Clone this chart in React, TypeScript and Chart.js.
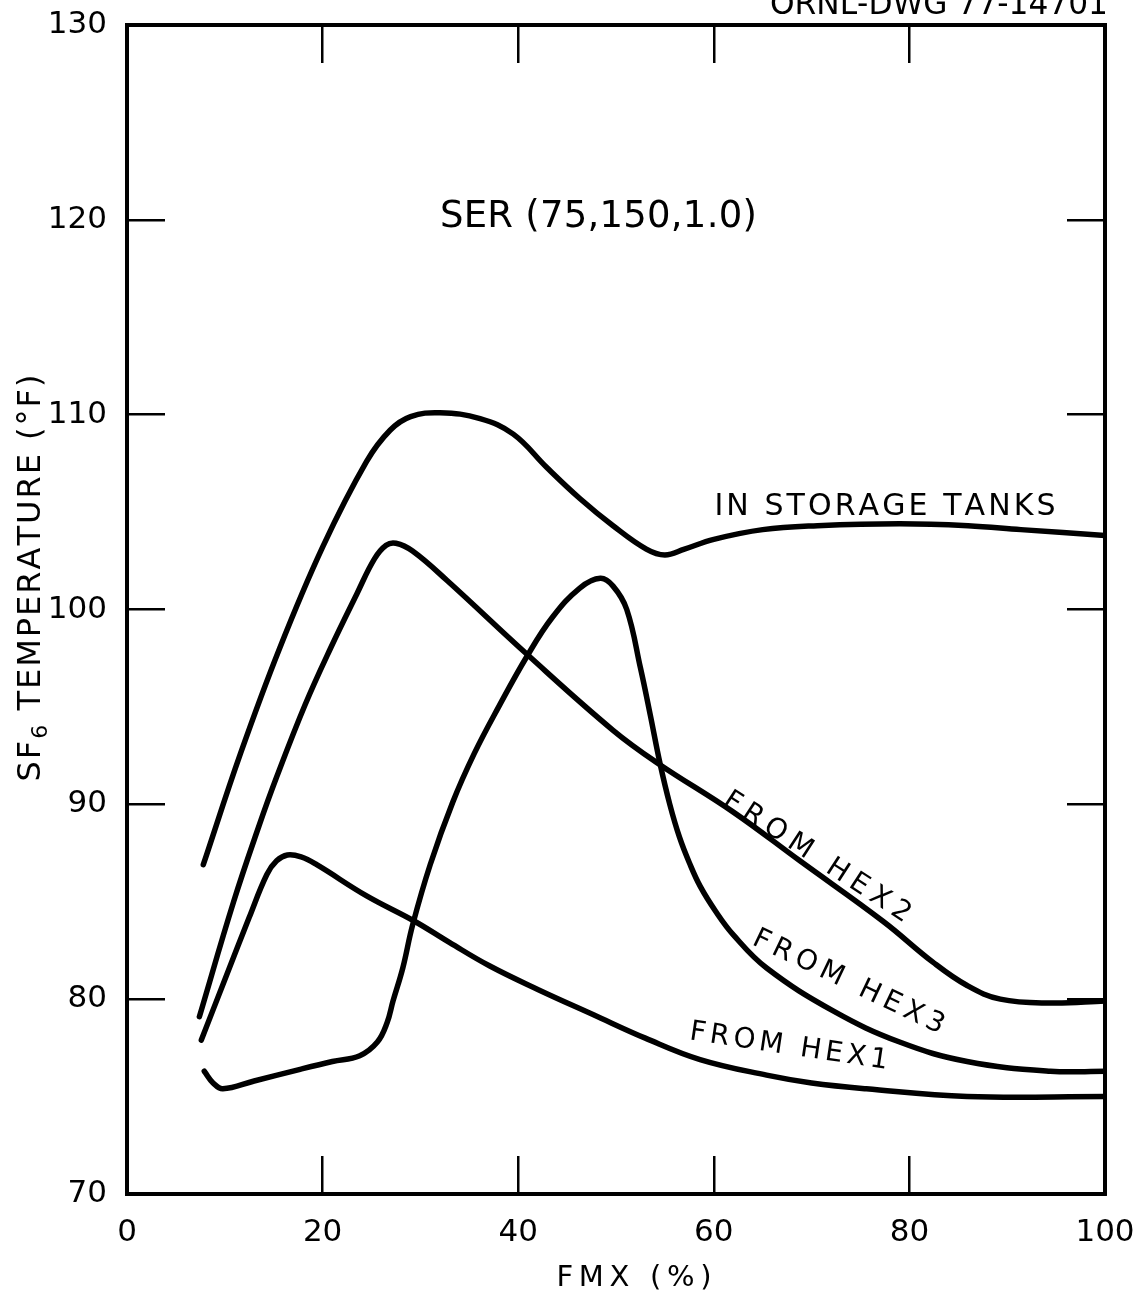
import React, { useEffect, useRef } from "react";
import { Chart, registerables } from "chart.js";

Chart.register(...registerables);

const FONT = "'DejaVu Sans', 'Liberation Sans', sans-serif";

// ---- data (FMX %, SF6 temperature °F) ----
const storageX = [7.8, 11.6, 15.6, 20.0, 24.5, 26.9, 29.0, 32.0, 36.1, 39.5, 42.9, 46.3, 49.7, 53.1, 55.0, 57.0, 60.0, 65.0, 70.6, 79.0, 86.0, 91.4, 100];
const storageY = [86.9, 92.6, 98.0, 103.2, 107.6, 109.2, 109.9, 110.1, 109.8, 109.0, 107.3, 105.7, 104.3, 103.1, 102.8, 103.1, 103.6, 104.1, 104.3, 104.4, 104.3, 104.1, 103.8];

const hex2X = [7.4, 10.9, 13.5, 15.3, 18.2, 20.8, 23.5, 25.3, 26.5, 27.5, 29.2, 32.7, 40.9, 49.7, 54.3, 62.0, 68.8, 77.3, 82.4, 85.9, 89.3, 94.4, 100];
const hex2Y = [79.1, 85.0, 88.9, 91.4, 95.1, 98.0, 100.8, 102.6, 103.3, 103.4, 103.0, 101.5, 97.7, 93.8, 92.1, 89.6, 87.1, 84.0, 81.9, 80.7, 80.0, 79.8, 79.9];

const hex3X = [7.9, 8.8, 9.8, 13.0, 17.7, 21.0, 23.8, 25.6, 26.6, 27.2, 28.2, 29.2, 31.0, 33.3, 35.5, 38.0, 40.9, 43.5, 46.3, 48.4, 49.7, 51.1, 52.5, 53.5, 54.5, 55.5, 56.5, 57.5, 58.6, 60.2, 62.0, 65.4, 72.2, 79.0, 85.9, 94.4, 100];
const hex3Y = [76.3, 75.7, 75.4, 75.8, 76.4, 76.8, 77.1, 77.8, 78.8, 79.9, 81.6, 83.8, 86.9, 90.1, 92.6, 95.0, 97.6, 99.6, 101.1, 101.6, 101.2, 100.0, 97.0, 94.6, 92.1, 90.0, 88.3, 87.0, 85.8, 84.5, 83.3, 81.6, 79.4, 77.8, 76.8, 76.3, 76.3];

const hex1X = [7.6, 10.0, 12.5, 14.3, 15.3, 16.4, 17.8, 19.4, 24.5, 29.4, 33.0, 37.1, 42.0, 47.7, 53.0, 58.6, 65.4, 70.0, 75.6, 85.9, 100];
const hex1Y = [77.9, 81.0, 84.2, 86.4, 87.1, 87.4, 87.3, 86.9, 85.3, 84.0, 82.9, 81.7, 80.5, 79.2, 78.0, 76.9, 76.1, 75.7, 75.4, 75.0, 75.0];

const xTickValues = [0, 20, 40, 60, 80, 100];
const yTickValues = [70, 80, 90, 100, 110, 120, 130];

const caseTitle = "SER (75,150,1.0)";
const curveNames = ["IN STORAGE TANKS", "FROM HEX2", "FROM HEX3", "FROM HEX1"];
const xAxisTitle = "FMX (%)";
const yAxisTitleParts = ["SF", "6", " TEMPERATURE (°F)"];
const drawingNumber = "ORNL-DWG 77-14701";

// ---- text placement (data coordinates for in-plot notes) ----
const NOTES = [
  { text: caseTitle, x: 48.2, y: 120.3, angle: 0, size: 37, width: 317 },
  { text: curveNames[0], x: 77.5, y: 105.4, angle: 0, size: 30, width: 341 },
  { text: curveNames[1], x: 70.7, y: 87.4, angle: 33, size: 28, width: 218 },
  { text: curveNames[2], x: 73.9, y: 81.0, angle: 25.5, size: 28, width: 209 },
  { text: curveNames[3], x: 67.7, y: 77.7, angle: 8.5, size: 28, width: 200 },
];

type Part = { t: string; size: number; dy: number };

function drawParts(ctx: CanvasRenderingContext2D, parts: Part[], width: number, baseline: number) {
  const chars: { c: string; size: number; dy: number; w: number }[] = [];
  for (const p of parts) {
    ctx.font = `${p.size}px ${FONT}`;
    for (const c of Array.from(p.t)) chars.push({ c, size: p.size, dy: p.dy, w: ctx.measureText(c).width });
  }
  const natural = chars.reduce((a, b) => a + b.w, 0);
  let ls = 0;
  let sx = 1;
  if (natural < width) ls = (width - natural) / Math.max(1, chars.length - 1);
  else sx = width / natural;
  ctx.save();
  ctx.scale(sx, 1);
  let x = -(natural + ls * (chars.length - 1)) / 2;
  ctx.textAlign = "left";
  ctx.textBaseline = "alphabetic";
  ctx.fillStyle = "#000";
  for (const ch of chars) {
    ctx.font = `${ch.size}px ${FONT}`;
    ctx.fillText(ch.c, x, baseline + ch.dy);
    x += ch.w + ls;
  }
  ctx.restore();
}

const notesPlugin = {
  id: "notes",
  afterDraw(chart: any) {
    const ctx: CanvasRenderingContext2D = chart.ctx;
    const xs = chart.scales.x;
    const ys = chart.scales.y;
    for (const n of NOTES) {
      ctx.save();
      ctx.translate(xs.getPixelForValue(n.x), ys.getPixelForValue(n.y));
      ctx.rotate((n.angle * Math.PI) / 180);
      drawParts(ctx, [{ t: n.text, size: n.size, dy: 0 }], n.width, 0.365 * n.size);
      ctx.restore();
    }
    // y axis title (rotated, with subscript)
    ctx.save();
    ctx.translate(28.5, 578);
    ctx.rotate(-Math.PI / 2);
    drawParts(
      ctx,
      [
        { t: yAxisTitleParts[0], size: 32, dy: 0 },
        { t: yAxisTitleParts[1], size: 22, dy: 7 },
        { t: yAxisTitleParts[2], size: 32, dy: 0 },
      ],
      407,
      0.365 * 32
    );
    ctx.restore();
    // x axis title
    ctx.save();
    ctx.translate(634, 1275);
    drawParts(ctx, [{ t: xAxisTitle, size: 29, dy: 0 }], 155, 0.365 * 29);
    ctx.restore();
    // drawing number (clipped at top)
    ctx.save();
    ctx.translate(939, 14);
    drawParts(ctx, [{ t: drawingNumber, size: 32, dy: 0 }], 338, 0);
    ctx.restore();
  },
};

const lineStyle = {
  borderColor: "#000",
  borderWidth: 5.5,
  pointRadius: 0,
  fill: false,
  tension: 0.4,
  borderCapStyle: "round" as const,
  borderJoinStyle: "round" as const,
};

const toPoints = (xs: number[], ys: number[]) => xs.map((x, i) => ({ x, y: ys[i] }));

const gridStyle = {
  drawOnChartArea: false,
  drawTicks: true,
  tickLength: -38,
  color: "#000",
  lineWidth: 2.5,
};
const borderStyle = { display: true, color: "#000", width: 4 };

const noPad = (s: any) => {
  s.paddingLeft = 0;
  s.paddingRight = 0;
  s.paddingTop = 0;
  s.paddingBottom = 0;
};

export default function App() {
  const ref = useRef<HTMLCanvasElement>(null);
  useEffect(() => {
    if (!ref.current) return;
    const chart = new Chart(ref.current, {
      type: "line",
      data: {
        datasets: [
          { label: curveNames[0], data: toPoints(storageX, storageY), ...lineStyle },
          { label: curveNames[1], data: toPoints(hex2X, hex2Y), ...lineStyle },
          { label: curveNames[2], data: toPoints(hex3X, hex3Y), ...lineStyle },
          { label: curveNames[3], data: toPoints(hex1X, hex1Y), ...lineStyle },
        ],
      },
      options: {
        responsive: false,
        animation: false,
        layout: { padding: 0 },
        plugins: {
          legend: { display: false },
          tooltip: { enabled: false },
          title: { display: false },
        },
        scales: {
          x: {
            type: "linear",
            position: "bottom",
            min: 0,
            max: 100,
            afterBuildTicks: (s: any) => {
              s.ticks = xTickValues.map((v) => ({ value: v }));
            },
            afterFit: (s: any) => {
              s.height = 98;
              noPad(s);
            },
            grid: gridStyle,
            border: borderStyle,
            ticks: {
              color: "#000",
              font: { family: FONT, size: 31 },
              padding: 58,
              maxRotation: 0,
              autoSkip: false,
            },
          },
          x2: {
            type: "linear",
            position: "top",
            min: 0,
            max: 100,
            afterBuildTicks: (s: any) => {
              s.ticks = xTickValues.map((v) => ({ value: v }));
            },
            afterFit: (s: any) => {
              s.height = 25;
              noPad(s);
            },
            grid: gridStyle,
            border: borderStyle,
            ticks: { display: false },
          },
          y: {
            type: "linear",
            position: "left",
            min: 70,
            max: 130,
            afterBuildTicks: (s: any) => {
              s.ticks = yTickValues.map((v) => ({ value: v }));
            },
            afterFit: (s: any) => {
              s.width = 127;
              noPad(s);
            },
            grid: gridStyle,
            border: borderStyle,
            ticks: {
              color: "#000",
              font: { family: FONT, size: 31 },
              padding: 58,
              autoSkip: false,
            },
          },
          y2: {
            type: "linear",
            position: "right",
            min: 70,
            max: 130,
            afterBuildTicks: (s: any) => {
              s.ticks = yTickValues.map((v) => ({ value: v }));
            },
            afterFit: (s: any) => {
              s.width = 40;
              noPad(s);
            },
            grid: gridStyle,
            border: borderStyle,
            ticks: { display: false },
          },
        },
      } as any,
      plugins: [notesPlugin],
    });
    return () => chart.destroy();
  }, []);
  return (
    <div style={{ position: "absolute", left: 0, top: 0, width: 1145, height: 1292, background: "#fff" }}>
      <canvas ref={ref} width={1145} height={1292} style={{ display: "block", width: 1145, height: 1292 }} />
    </div>
  );
}
